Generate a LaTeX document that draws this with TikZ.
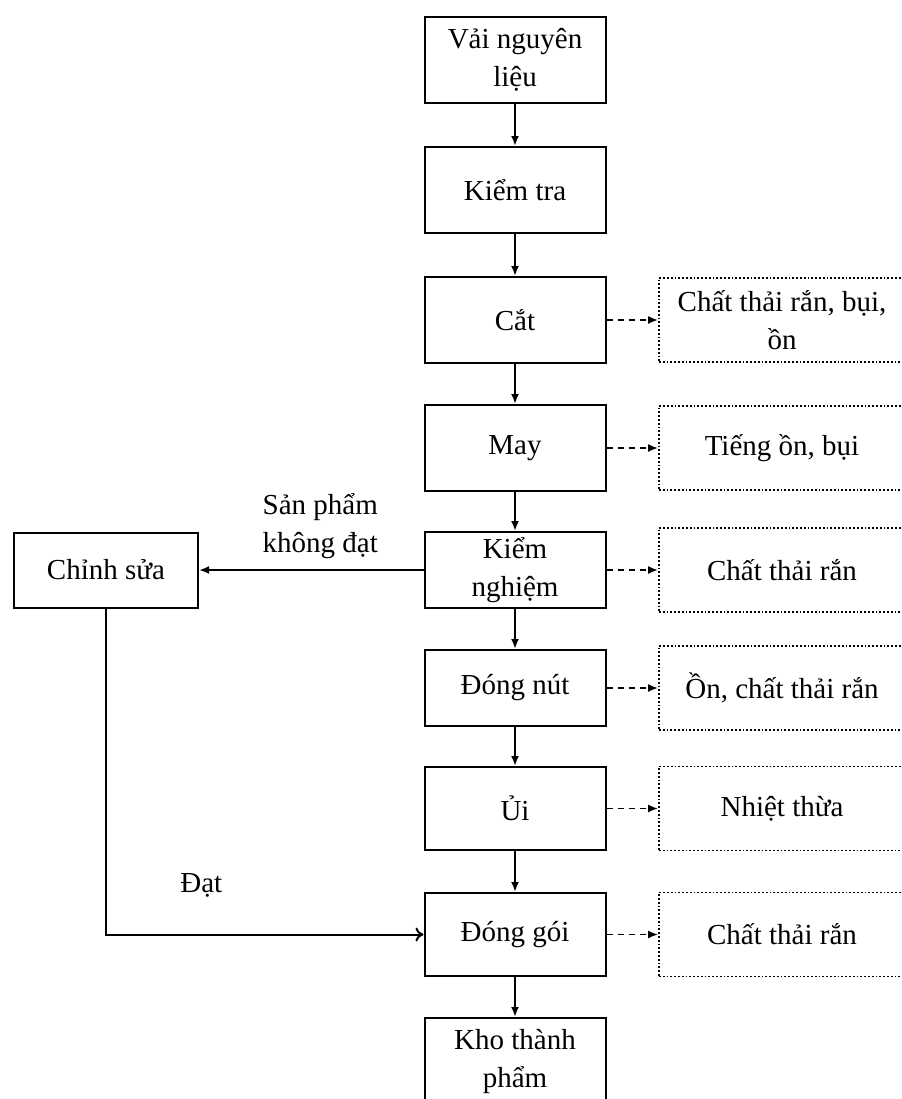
\documentclass[tikz,border=0pt]{standalone}
\usepackage{fontspec}
\setmainfont{Liberation Serif}
\usetikzlibrary{arrows,arrows.meta}

\begin{document}
\begin{tikzpicture}[x=0.5pt, y=0.5pt,
	stage/.style = {draw, line width=1pt, minimum width=90.5pt, minimum height=43pt, align=center, inner sep=2pt, font=\fontsize{14.5}{19}\selectfont},
	waste/.style = {draw, densely dotted, line width=0.9pt, minimum width=123pt, minimum height=42pt, align=center, inner sep=2pt, font=\fontsize{14.5}{19}\selectfont},
	flow/.style = {-{Latex[length=5pt, width=4pt]}, line width=1pt},
	emit/.style = {-{Latex[length=5pt, width=4pt]}, line width=0.9pt, dash pattern=on 3pt off 2.5pt},
	tag/.style = {align=center, inner sep=2pt, font=\fontsize{14.5}{19}\selectfont}]
	\useasboundingbox (0,0) rectangle (901,-1099);
	\node[stage] (a) at (515,-60) {Vải nguyên\\liệu};
	\node[stage] (b) [node distance = 65pt] [below of = a] {Kiểm tra};
	\node[stage] (c) [node distance = 65pt] [below of = b] {Cắt};
	\node[stage] (d) [node distance = 64pt] [below of = c] {May};
	\node[stage, minimum height=38pt, inner ysep=0pt] (e) [node distance = 61pt] [below of = d] {Kiểm\\nghiệm};
	\node[stage, minimum height=38pt] (f) [node distance = 59pt] [below of = e] {Đóng nút};
	\node[stage, minimum height=41.5pt] (g) [node distance = 60.25pt] [below of = f] {Ủi};
	\node[stage, minimum height=41.5pt] (h) [node distance = 63pt] [below of = g] {Đóng gói};
	\node[stage] (i) [node distance = 63.25pt] [below of = h] {Kho thành\\phẩm};
	\node[waste] (c1) [node distance = 133.5pt] [right of = c] {Chất thải rắn, bụi,\\ồn};
	\node[waste] (d1) [node distance = 133.5pt] [right of = d] {Tiếng ồn, bụi};
	\node[waste] (e1) [node distance = 133.5pt] [right of = e] {Chất thải rắn};
	\node[waste] (f1) [node distance = 133.5pt] [right of = f] {Ồn, chất thải rắn};
	\node[waste] (g1) [node distance = 133.5pt] [right of = g] {Nhiệt thừa};
	\node[waste] (h1) [node distance = 133.5pt] [right of = h] {Chất thải rắn};
	\node[stage, minimum width=92pt, minimum height=37.5pt] (fix) [node distance = 204.5pt] [left of = e] {Chỉnh sửa};
	\path[flow] (a) edge (b);
	\path[flow] (b) edge (c);
	\path[flow] (c) edge (d);
	\path[flow] (d) edge (e);
	\path[flow] (e) edge (f);
	\path[flow] (f) edge (g);
	\path[flow] (g) edge (h);
	\path[flow] (h) edge (i);
	\path[emit] (c) edge (c1);
	\path[emit] (d) edge (d1);
	\path[emit] (e) edge (e1);
	\path[emit] (f) edge (f1);
	\path[emit] (g) edge (g1);
	\path[emit] (h) edge (h1);
	\path[flow] (e) edge node[tag, above=3pt, pos=0.46] {Sản phẩm\\không đạt} (fix);
	\draw[-{To[length=4pt, width=7pt]}, line width=1pt] (fix) |- node[tag, above=16pt, pos=0.65] {Đạt} (h);
\end{tikzpicture}
\end{document}
